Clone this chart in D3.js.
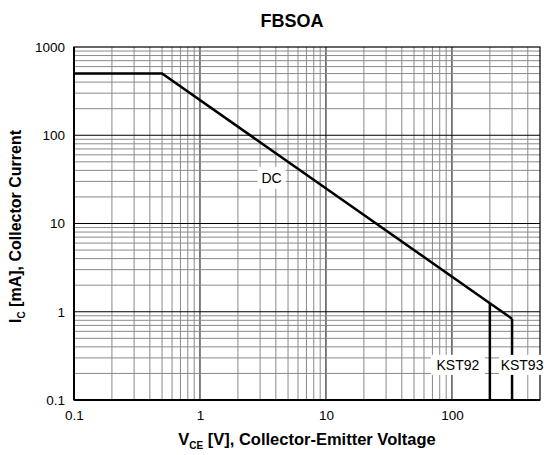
<!DOCTYPE html>
<html>
<head>
<meta charset="utf-8">
<script src="https://cdn.jsdelivr.net/npm/d3@7"></script>
<style>
  body { margin: 0; background: #fff; }
  text { font-family: "Liberation Sans", Arial, sans-serif; }
</style>
</head>
<body>
<svg id="chart" width="544" height="455"></svg>
<script>
// data
const xDomain = [0.1, 500];
const yDomain = [0.1, 1000];
const xTickValues = [0.1, 1, 10, 100];
const yTickValues = [0.1, 1, 10, 100, 1000];
// DC safe operating line (V, mA)
const dcV = [0.1, 0.5, 200, 300];
const dcI = [500, 500, 1.25, 0.833];
// voltage limits for each part
const parts = ['KST92', 'KST93'];
const partV = [200, 300];
const partI = [1.25, 0.833];
const labelI = 0.25;
const dcLabel = { v: 3.7, i: 33 };

const margin = { top: 47, right: 4, bottom: 55, left: 74 };
const width = 544;
const height = 455;
const innerWidth = width - margin.left - margin.right;
const innerHeight = height - margin.top - margin.bottom;
const font = '"Liberation Sans", Arial, sans-serif';

const svg = d3.select('#chart');
const g = svg.append('g').attr('transform', `translate(${margin.left},${margin.top})`);

const xScale = d3.scaleLog().domain(xDomain).range([0, innerWidth]);
const yScale = d3.scaleLog().domain(yDomain).range([innerHeight, 0]);

// minor + major grid
const isMajor = v => Math.abs(Math.log10(v) - Math.round(Math.log10(v))) < 1e-9;
const xGrid = xScale.ticks().filter(v => v > xDomain[0] && v < xDomain[1]);
const yGrid = yScale.ticks().filter(v => v > yDomain[0] && v < yDomain[1]);

g.selectAll('.xgrid').data(xGrid).enter().append('line')
    .attr('x1', d => xScale(d)).attr('x2', d => xScale(d))
    .attr('y1', 0).attr('y2', innerHeight)
    .attr('stroke', d => isMajor(d) ? '#000' : '#8a8a8a')
    .attr('stroke-width', 1);
g.selectAll('.ygrid').data(yGrid).enter().append('line')
    .attr('y1', d => yScale(d)).attr('y2', d => yScale(d))
    .attr('x1', 0).attr('x2', innerWidth)
    .attr('stroke', d => isMajor(d) ? '#000' : '#8a8a8a')
    .attr('stroke-width', 1);

// frame
g.append('rect')
    .attr('width', innerWidth).attr('height', innerHeight)
    .attr('fill', 'none').attr('stroke', '#000').attr('stroke-width', 1.2);
g.append('line').attr('x1', 0).attr('x2', 0).attr('y1', 0).attr('y2', innerHeight)
    .attr('stroke', '#000').attr('stroke-width', 2);
g.append('line').attr('x1', 0).attr('x2', innerWidth).attr('y1', innerHeight).attr('y2', innerHeight)
    .attr('stroke', '#000').attr('stroke-width', 2);

// axes (labels only)
const xAxis = d3.axisBottom(xScale).tickValues(xTickValues).tickSize(0).tickPadding(10)
    .tickFormat(d3.format('~g'));
const xAxisG = g.append('g').attr('transform', `translate(0,${innerHeight})`).call(xAxis);
xAxisG.select('.domain').remove();
xAxisG.selectAll('text').attr('font-size', 13.5).attr('fill', '#000').style('font-family', font);

const yAxis = d3.axisLeft(yScale).tickValues(yTickValues).tickSize(0).tickPadding(9)
    .tickFormat(d3.format('~g'));
const yAxisG = g.append('g').call(yAxis);
yAxisG.select('.domain').remove();
yAxisG.selectAll('text').attr('font-size', 13.5).attr('fill', '#000').style('font-family', font);

// DC line and part limits
const line = d3.line().x(d => xScale(d[0])).y(d => yScale(d[1]));
g.append('path')
    .attr('d', line(dcV.map((v, i) => [v, dcI[i]])))
    .attr('fill', 'none').attr('stroke', '#000').attr('stroke-width', 2.5);

parts.forEach((p, i) => {
    g.append('line')
        .attr('x1', xScale(partV[i])).attr('x2', xScale(partV[i]))
        .attr('y1', yScale(partI[i])).attr('y2', innerHeight)
        .attr('stroke', '#000').attr('stroke-width', 2.5);
});

// labels with white boxes
function boxLabel(x, y, txt, w, h) {
    g.append('rect').attr('x', x - w / 2).attr('y', y - h / 2)
        .attr('width', w).attr('height', h).attr('fill', '#fff');
    g.append('text').attr('x', x).attr('y', y + 5)
        .attr('text-anchor', 'middle').attr('font-size', 14).text(txt);
}

parts.forEach((p, i) => {
    boxLabel(xScale(partV[i]) + (i === 0 ? -32 : 10), yScale(labelI), p, i === 0 ? 54 : 46, 20);
});

boxLabel(xScale(dcLabel.v), yScale(dcLabel.i), 'DC', 28, 22);

// titles
svg.append('text').attr('x', 292).attr('y', 27)
    .attr('text-anchor', 'middle').attr('font-size', 18).attr('font-weight', 'bold').text('FBSOA');

const xt = svg.append('text').attr('x', margin.left + innerWidth / 2).attr('y', 445)
    .attr('text-anchor', 'middle').attr('font-size', 16.5).attr('font-weight', 'bold');
xt.append('tspan').text('V');
xt.append('tspan').attr('font-size', 10).attr('dy', 4).text('CE');
xt.append('tspan').attr('dy', -4).text(' [V], Collector-Emitter Voltage');

const yt = svg.append('text')
    .attr('transform', `translate(21,${margin.top + innerHeight / 2 + 3}) rotate(-90)`)
    .attr('text-anchor', 'middle').attr('font-size', 16).attr('font-weight', 'bold');
yt.append('tspan').text('I');
yt.append('tspan').attr('font-size', 10).attr('dy', 4).text('C');
yt.append('tspan').attr('dy', -4).text(' [mA], Collector Current');
</script>
</body>
</html>
